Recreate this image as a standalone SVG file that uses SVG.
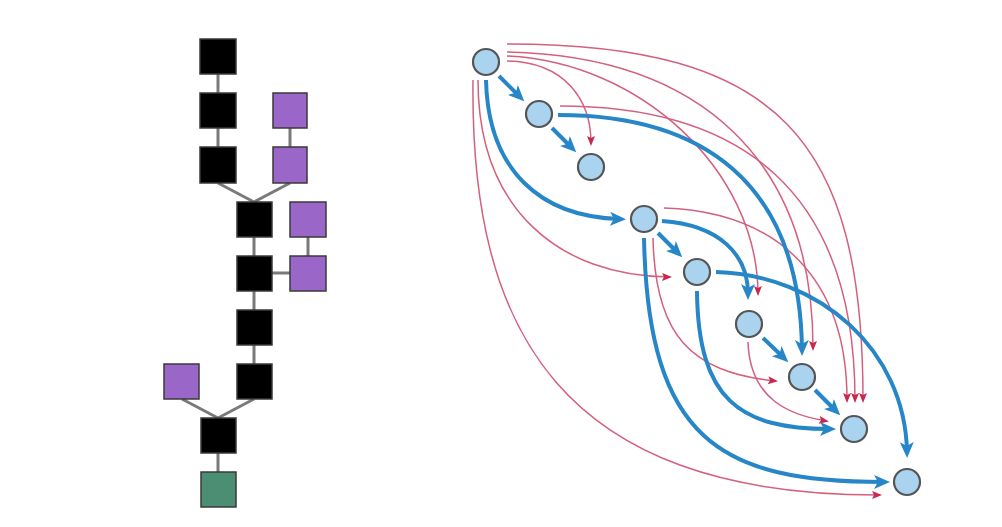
<svg xmlns="http://www.w3.org/2000/svg" width="1002" height="527" viewBox="0 0 1002 527">
<style>
.sq{stroke:#3a3a3a;stroke-width:1.5}
.blk{fill:#000}
.pur{fill:#9a66c8}
.grn{fill:#4a8f74}
.te{stroke:#7a7a7a;stroke-width:3;fill:none}
.nd{fill:#a9d3ee;stroke:#555;stroke-width:2.2}
.be{stroke:#2786c8;stroke-width:4;fill:none;marker-end:url(#ab)}
.re{stroke:#d4607e;stroke-width:1.5;fill:none;marker-end:url(#ar)}
</style>
<defs>
<marker id="ab" markerUnits="userSpaceOnUse" markerWidth="18" markerHeight="16" refX="10" refY="7" orient="auto"><path d="M0,0 L16,7 L0,14 L4,7 z" fill="#2786c8"/></marker>
<marker id="ar" markerUnits="userSpaceOnUse" markerWidth="12" markerHeight="10" refX="7" refY="4" orient="auto"><path d="M0,0 L10,4 L0,8 L2,4 z" fill="#c8284e"/></marker>
</defs>
<rect width="1002" height="527" fill="#fff"/>
<g id="tree-edges">
<path class="te" d="M218,74 V93 M218,128 V147 M218,183 L254,202 M290,183 L254,202 M290,128 V147 M254,237 V256 M308,237 V256 M272,273 H290 M254,291 V310 M254,345 V364 M254,399 L218,418 M182,399 L218,418 M218,453 V472"/>
</g>
<g id="t1"><rect class="sq blk" x="200" y="39" width="36" height="35"/></g>
<g id="t2"><rect class="sq blk" x="200" y="93" width="36" height="35"/></g>
<g id="t3"><rect class="sq blk" x="200" y="147" width="36" height="36"/></g>
<g id="p1"><rect class="sq pur" x="273" y="93" width="34" height="35"/></g>
<g id="p2"><rect class="sq pur" x="273" y="147" width="34" height="36"/></g>
<g id="t4"><rect class="sq blk" x="237" y="202" width="35" height="35"/></g>
<g id="p3"><rect class="sq pur" x="290" y="202" width="36" height="35"/></g>
<g id="t5"><rect class="sq blk" x="237" y="256" width="35" height="35"/></g>
<g id="p4"><rect class="sq pur" x="290" y="256" width="36" height="35"/></g>
<g id="t6"><rect class="sq blk" x="237" y="310" width="35" height="35"/></g>
<g id="t7"><rect class="sq blk" x="237" y="364" width="35" height="35"/></g>
<g id="p5"><rect class="sq pur" x="164" y="364" width="35" height="35"/></g>
<g id="t8"><rect class="sq blk" x="201" y="418" width="35" height="35"/></g>
<g id="g1"><rect class="sq grn" x="201" y="472" width="35" height="35"/></g>
<g id="connectors">
<path class="re" d="M507,61 C565,62 591,100 591,143"/>
<path class="re" d="M507,56 C640,62 757,170 758,293"/>
<path class="re" d="M507,52 C700,56 813,160 813,348"/>
<path class="re" d="M507,44 C780,44 863,140 863,400"/>
<path class="re" d="M560,106 C740,106 855,190 855,400"/>
<path class="re" d="M664,208 C780,212 847,280 847,400"/>
<path class="re" d="M478,80 C478,210 560,276 669,277"/>
<path class="re" d="M473,80 C470,330 560,495 879,495"/>
<path class="re" d="M653,238 C655,335 690,372 775,381"/>
<path class="re" d="M748,342 C750,400 790,415 826,421"/>
<path class="be" d="M499,76 L520,97"/>
<path class="be" d="M552,128 L572,148"/>
<path class="be" d="M658,233 L678,253"/>
<path class="be" d="M763,338 L784,358"/>
<path class="be" d="M815,390 L836,411"/>
<path class="be" d="M486,80 C488,170 540,217 620,219"/>
<path class="be" d="M558,115 C700,115 800,180 802,350"/>
<path class="be" d="M662,221 C720,225 748,255 748,294"/>
<path class="be" d="M716,272 C820,275 905,350 907,452"/>
<path class="be" d="M644,238 C648,440 720,482 884,482"/>
<path class="be" d="M697,291 C698,400 740,429 830,429"/>
</g>
<g id="n0"><circle class="nd" cx="486" cy="62" r="13"/></g>
<g id="n1"><circle class="nd" cx="539" cy="114" r="13"/></g>
<g id="n2"><circle class="nd" cx="591" cy="167" r="13"/></g>
<g id="n3"><circle class="nd" cx="644" cy="219" r="13"/></g>
<g id="n4"><circle class="nd" cx="697" cy="272" r="13"/></g>
<g id="n5"><circle class="nd" cx="749" cy="324" r="13"/></g>
<g id="n6"><circle class="nd" cx="802" cy="377" r="13"/></g>
<g id="n7"><circle class="nd" cx="854" cy="429" r="13"/></g>
<g id="n8"><circle class="nd" cx="907" cy="482" r="13"/></g>
</svg>
